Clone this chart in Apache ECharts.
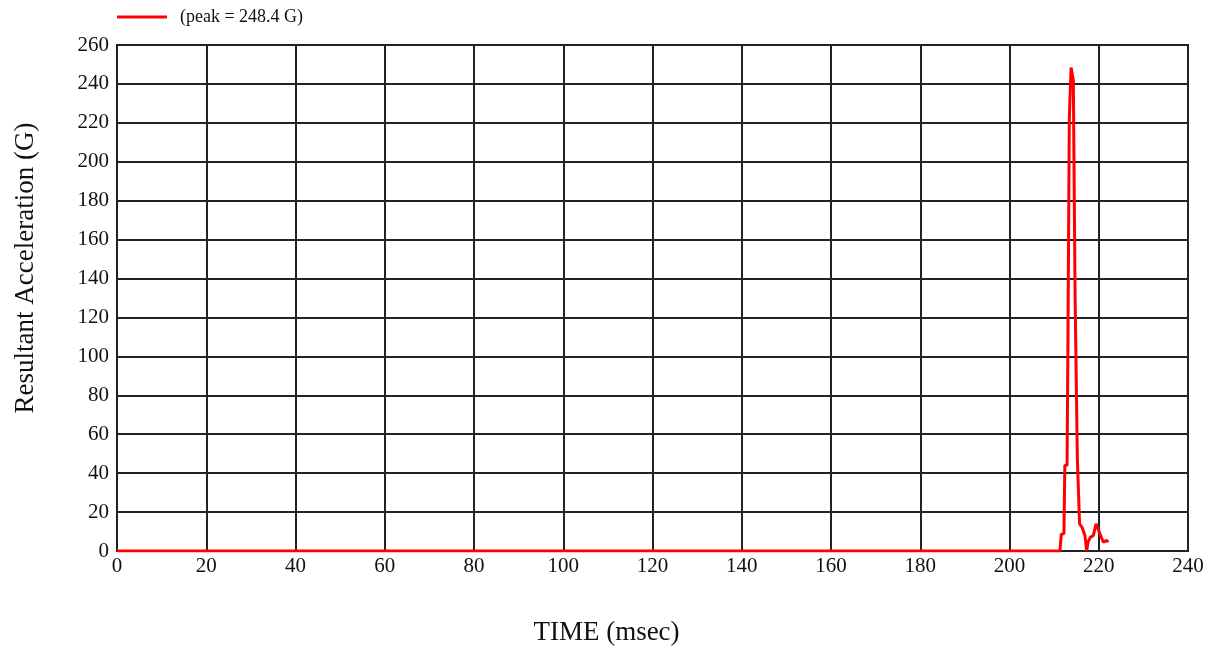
<!DOCTYPE html>
<html><head><meta charset="utf-8">
<script src="https://cdn.jsdelivr.net/npm/echarts@6/dist/echarts.min.js"></script>
<style>html,body{margin:0;padding:0;background:#fff}#c{width:1213px;height:651px}</style>
</head><body><div id="c"></div>
<script>
const seriesName = '(peak = 248.4 G)';
const timeMs = [0, 211.3, 211.6, 212.2, 212.4, 212.9, 213.1, 213.3, 213.4, 213.7, 213.8, 214.2, 214.3, 214.6, 214.7, 215.1, 215.2, 215.5, 215.7, 216.3, 216.9, 217.3, 217.6, 218.1, 218.8, 219.4, 219.8, 220.3, 221.0, 221.8, 222.1];
const accelG = [0, 0, 8.5, 9, 44, 44, 109, 110, 222, 222, 248.4, 248.4, 242, 242, 131, 131, 48, 48, 14, 12, 8, 0, 4.5, 7, 8, 14, 13, 8.7, 4.6, 5.5, 4.5];
const xTicks = {min: 0, max: 240, interval: 20};
const yTicks = {min: 0, max: 260, interval: 20};

const data = timeMs.map((t, i) => [t, accelG[i]]);
const chart = echarts.init(document.getElementById('c'), null, {renderer: 'canvas'});
const font = 'Liberation Serif';
chart.setOption({
  animation: false,
  backgroundColor: '#fff',
  grid: {left: 117, right: 25, top: 45, bottom: 99, show: true, borderColor: '#222', borderWidth: 2, backgroundColor: 'transparent'},
  legend: {
    left: 112, top: 3, itemWidth: 50, itemHeight: 14, itemGap: 10,
    textStyle: {fontFamily: font, fontSize: 18, color: '#111', padding: [0, 0, 0, 8]},
    data: [{name: seriesName, icon: 'path://M0,0 L50,0 L50,3 L0,3 Z'}]
  },
  xAxis: {
    type: 'value', min: xTicks.min, max: xTicks.max, interval: xTicks.interval,
    name: 'TIME (msec)', nameLocation: 'middle', nameGap: 68,
    nameTextStyle: {fontFamily: font, fontSize: 27, color: '#111', padding: [0, 92, 0, 0]},
    axisLine: {show: true, lineStyle: {color: '#222', width: 2}},
    axisTick: {show: false},
    axisLabel: {fontFamily: font, fontSize: 21, color: '#111', margin: 5},
    splitLine: {show: true, lineStyle: {color: '#222', width: 2}}
  },
  yAxis: {
    type: 'value', min: yTicks.min, max: yTicks.max, interval: yTicks.interval,
    name: 'Resultant Acceleration (G)', nameLocation: 'middle', nameGap: 78,
    nameTextStyle: {fontFamily: font, fontSize: 27, color: '#111', padding: [0, 0, 0, 60]},
    axisLine: {show: true, lineStyle: {color: '#222', width: 2}},
    axisTick: {show: false},
    axisLabel: {fontFamily: font, fontSize: 21, color: '#111', margin: 8},
    splitLine: {show: true, lineStyle: {color: '#222', width: 2}}
  },
  series: [{
    name: seriesName, type: 'line', data: data, showSymbol: false, symbol: 'none',
    lineStyle: {color: '#ff0000', width: 3}, itemStyle: {color: '#ff0000'}, z: 5
  }]
});
</script></body></html>
